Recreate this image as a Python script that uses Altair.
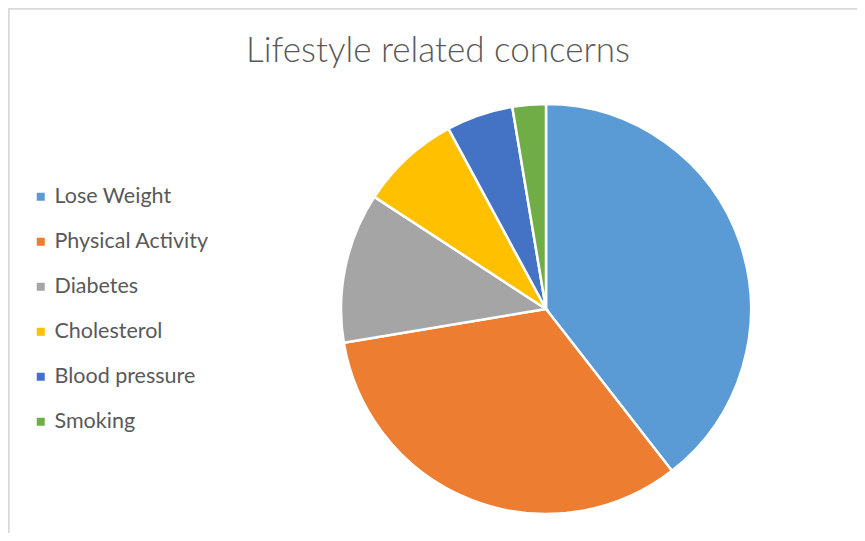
import altair as alt
import pandas as pd

title_text = "Lifestyle related concerns"
categories = ["Lose Weight", "Physical Activity", "Diabetes", "Cholesterol", "Blood pressure", "Smoking"]
values = [30, 25, 9, 6, 4, 2]
colors = ["#5B9BD5", "#ED7D31", "#A5A5A5", "#FFC000", "#4472C4", "#70AD47"]

df = pd.DataFrame({"category": categories, "value": values, "order": list(range(len(categories)))})
title_df = pd.DataFrame({"t": [title_text]})

W, H = 849, 525

pie = alt.Chart(df).mark_arc(radius=205, stroke="white", strokeWidth=2.5).encode(
    theta=alt.Theta("value:Q", stack=True),
    order=alt.Order("order:Q"),
    color=alt.Color(
        "category:N",
        scale=alt.Scale(domain=categories, range=colors),
        legend=alt.Legend(
            title=None,
            orient="none",
            legendX=22,
            legendY=178,
            symbolType="square",
            symbolSize=64,
            symbolStrokeWidth=0,
            labelFontSize=21.5,
            labelFont="Lato",
            labelColor="#595959",
            labelOffset=3,
            rowPadding=22,
        ),
    ),
    x=alt.value(538),
    y=alt.value(301),
)

title = alt.Chart(title_df).mark_text(
    font="Lato", fontSize=35, fontWeight=300, color="#595959",
    align="center", baseline="alphabetic",
).encode(text="t:N", x=alt.value(430), y=alt.value(54))

border_left = alt.Chart(df).mark_rule(color="#d9d9d9", strokeWidth=1.5).encode(
    x=alt.value(0.5), y=alt.value(0), y2=alt.value(H)
)
border_top = alt.Chart(df).mark_rule(color="#d9d9d9", strokeWidth=1.5).encode(
    y=alt.value(0.5), x=alt.value(0), x2=alt.value(W)
)

chart = alt.layer(border_left, border_top, pie, title).properties(
    width=W,
    height=H,
    autosize=alt.AutoSizeParams(type="none"),
    padding=0,
).configure_view(stroke=None)

chart.save("out.html", embed_options={"renderer": "svg", "actions": False})
